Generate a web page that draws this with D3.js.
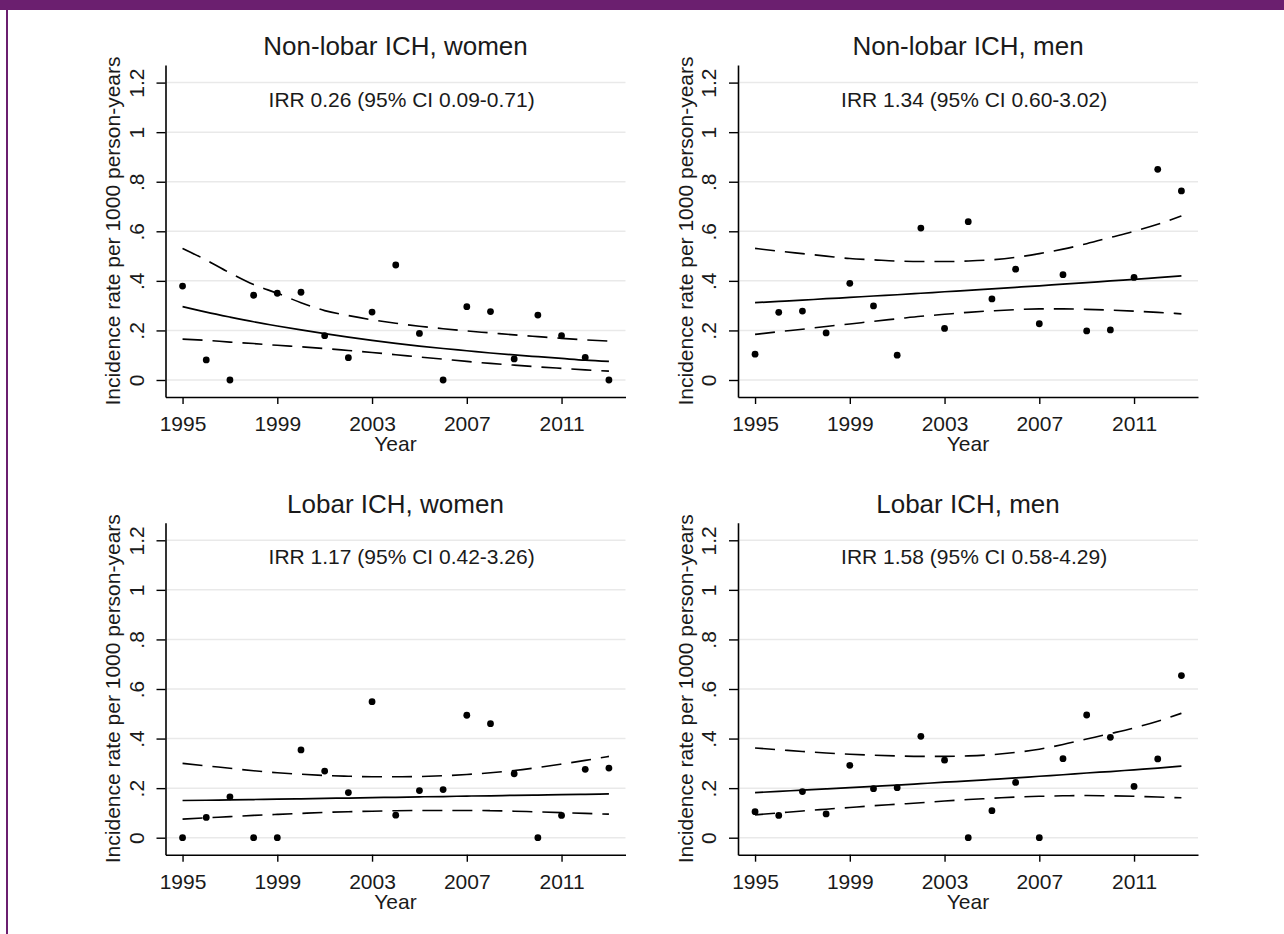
<!DOCTYPE html>
<html>
<head>
<meta charset="utf-8">
<script src="https://cdn.jsdelivr.net/npm/d3@7"></script>
<style>
  body { margin: 0; background: #fff; }
  text { font-family: "Liberation Sans", Arial, Helvetica, sans-serif; fill: #1a1a1a; }
</style>
</head>
<body>
<div id="chart-container"></div>
<script>

// categories / labels

const years = [1995, 1996, 1997, 1998, 1999, 2000, 2001, 2002, 2003, 2004,
               2005, 2006, 2007, 2008, 2009, 2010, 2011, 2012, 2013];
const titles = ["Non-lobar ICH, women", "Non-lobar ICH, men", "Lobar ICH, women", "Lobar ICH, men"];
const irrLabels = ["IRR 0.26 (95% CI 0.09-0.71)", "IRR 1.34 (95% CI 0.60-3.02)",
                   "IRR 1.17 (95% CI 0.42-3.26)", "IRR 1.58 (95% CI 0.58-4.29)"];
const xTicks = [1995, 1999, 2003, 2007, 2011];
const yTicks = [0, 0.2, 0.4, 0.6, 0.8, 1, 1.2];
const yTickLabels = ["0", ".2", ".4", ".6", ".8", "1", "1.2"];
const yTitle = "Incidence rate per 1000 person-years";
const xTitle = "Year";

// Non-lobar ICH, women
const obsNonlobarWomen = [0.379, 0.081, 0, 0.342, 0.35, 0.354, 0.179, 0.09, 0.274, 0.464,
                          0.188, 0, 0.296, 0.276, 0.085, 0.262, 0.179, 0.091, 0];
const fitNonlobarWomen = [0.296, 0.274, 0.254, 0.235, 0.218, 0.202, 0.187, 0.173, 0.160, 0.148,
                          0.137, 0.127, 0.118, 0.109, 0.101, 0.094, 0.087, 0.080, 0.075];
const upNonlobarWomen  = [0.531, 0.484, 0.432, 0.385, 0.350, 0.312, 0.280, 0.260, 0.243, 0.229,
                          0.217, 0.207, 0.198, 0.190, 0.182, 0.175, 0.168, 0.162, 0.157];
const loNonlobarWomen  = [0.165, 0.160, 0.153, 0.147, 0.140, 0.134, 0.127, 0.119, 0.111, 0.102,
                          0.093, 0.084, 0.075, 0.067, 0.060, 0.053, 0.047, 0.041, 0.036];

// Non-lobar ICH, men
const obsNonlobarMen = [0.104, 0.273, 0.278, 0.19, 0.39, 0.299, 0.1, 0.613, 0.208, 0.639,
                        0.327, 0.447, 0.227, 0.425, 0.198, 0.202, 0.414, 0.85, 0.763];
const fitNonlobarMen = [0.312, 0.317, 0.322, 0.328, 0.333, 0.339, 0.344, 0.350, 0.356, 0.362,
                        0.368, 0.374, 0.380, 0.387, 0.393, 0.400, 0.406, 0.413, 0.420];
const upNonlobarMen  = [0.531, 0.520, 0.510, 0.500, 0.490, 0.485, 0.480, 0.478, 0.478, 0.480,
                        0.485, 0.495, 0.510, 0.528, 0.550, 0.575, 0.600, 0.628, 0.662];
const loNonlobarMen  = [0.184, 0.195, 0.205, 0.216, 0.226, 0.237, 0.247, 0.257, 0.265, 0.273,
                        0.279, 0.284, 0.287, 0.287, 0.285, 0.282, 0.278, 0.273, 0.267];

// Lobar ICH, women
const obsLobarWomen = [0, 0.082, 0.165, 0, 0, 0.354, 0.269, 0.182, 0.549, 0.091,
                       0.19, 0.194, 0.494, 0.46, 0.258, 0, 0.09, 0.276, 0.281];
const fitLobarWomen = [0.150, 0.151, 0.153, 0.154, 0.156, 0.157, 0.159, 0.160, 0.162, 0.163,
                       0.165, 0.166, 0.168, 0.169, 0.171, 0.172, 0.174, 0.175, 0.177];
const upLobarWomen  = [0.300, 0.290, 0.280, 0.270, 0.262, 0.256, 0.251, 0.248, 0.246, 0.246,
                       0.247, 0.250, 0.255, 0.262, 0.271, 0.283, 0.297, 0.312, 0.328];
const loLobarWomen  = [0.075, 0.080, 0.085, 0.090, 0.094, 0.098, 0.102, 0.105, 0.107, 0.109,
                       0.110, 0.110, 0.110, 0.109, 0.107, 0.104, 0.101, 0.098, 0.095];

// Lobar ICH, men
const obsLobarMen = [0.105, 0.09, 0.186, 0.096, 0.292, 0.198, 0.202, 0.409, 0.313, 0,
                     0.109, 0.223, 0, 0.319, 0.495, 0.405, 0.207, 0.318, 0.654];
const fitLobarMen = [0.182, 0.187, 0.192, 0.197, 0.202, 0.207, 0.212, 0.218, 0.224, 0.229,
                     0.235, 0.241, 0.248, 0.254, 0.261, 0.267, 0.274, 0.281, 0.289];
const upLobarMen  = [0.362, 0.355, 0.348, 0.342, 0.337, 0.333, 0.330, 0.328, 0.328, 0.330,
                     0.335, 0.344, 0.357, 0.376, 0.398, 0.420, 0.443, 0.470, 0.502];
const loLobarMen  = [0.092, 0.100, 0.108, 0.115, 0.122, 0.129, 0.135, 0.141, 0.148, 0.154,
                     0.159, 0.164, 0.167, 0.169, 0.170, 0.169, 0.167, 0.164, 0.161];

const panels = [
  { obs: obsNonlobarWomen, fit: fitNonlobarWomen, up: upNonlobarWomen, lo: loNonlobarWomen },
  { obs: obsNonlobarMen,   fit: fitNonlobarMen,   up: upNonlobarMen,   lo: loNonlobarMen },
  { obs: obsLobarWomen,    fit: fitLobarWomen,    up: upLobarWomen,    lo: loLobarWomen },
  { obs: obsLobarMen,      fit: fitLobarMen,      up: upLobarMen,      lo: loLobarMen }
];

// page + frame

const svg = d3.select("#chart-container")
  .append("svg")
    .attr("width", 1284)
    .attr("height", 934);

svg.append("rect").attr("x", 0).attr("y", 0).attr("width", 1284).attr("height", 10).attr("fill", "#6b1f6f");
svg.append("rect").attr("x", 6).attr("y", 0).attr("width", 2).attr("height", 934).attr("fill", "#6b1f6f");

// one panel each

const colOffset = [0, 572.5];
const rowOffset = [0, 457.7];

const x = d3.scaleLinear().domain([1994.28, 2013.7]).range([165.5, 625.5]);
const y = d3.scaleLinear().domain([-0.0686, 1.271]).range([397, 65]);

panels.forEach((p, i) => {
  const g = svg.append("g")
    .attr("transform", `translate(${colOffset[i % 2]},${rowOffset[Math.floor(i / 2)]})`);

  // gridlines
  g.selectAll(".grid")
    .data(yTicks)
    .join("line")
      .attr("x1", 167).attr("x2", 625.5)
      .attr("y1", d => y(d)).attr("y2", d => y(d))
      .attr("stroke", "#e9e9e9")
      .attr("stroke-width", 1.5);

  // x axis
  const xa = g.append("g")
    .attr("transform", `translate(0,${y.range()[0]})`)
    .call(d3.axisBottom(x).tickValues(xTicks).tickFormat(d3.format("d")).tickSize(7).tickSizeOuter(0));
  xa.select(".domain").attr("stroke", "#000").attr("stroke-width", 1.6);
  xa.selectAll(".tick line").attr("stroke", "#000").attr("stroke-width", 1.4);
  xa.selectAll(".tick text")
    .attr("y", 34).attr("dy", 0)
    .attr("font-size", 21)
    .attr("fill", "#1a1a1a");

  // y axis
  const ya = g.append("g")
    .attr("transform", `translate(${x.range()[0]},0)`)
    .call(d3.axisLeft(y).tickValues(yTicks).tickFormat((d, j) => yTickLabels[j]).tickSize(9).tickSizeOuter(0));
  ya.select(".domain").attr("stroke", "#000").attr("stroke-width", 1.6);
  ya.selectAll(".tick line").attr("stroke", "#000").attr("stroke-width", 1.4);
  ya.selectAll(".tick text")
    .attr("transform", "rotate(-90)")
    .attr("x", 0).attr("y", -22).attr("dy", 0)
    .attr("text-anchor", "middle")
    .attr("font-size", 21)
    .attr("fill", "#1a1a1a");

  g.selectAll(".domain, .tick").attr("font-family", null);

  // titles
  const cx = (x.range()[0] + x.range()[1]) / 2;
  g.append("text")
    .attr("x", cx).attr("y", 55)
    .attr("text-anchor", "middle")
    .attr("font-size", 26)
    .text(titles[i]);

  g.append("text")
    .attr("x", x(2004.25)).attr("y", y(1.103))
    .attr("text-anchor", "middle")
    .attr("font-size", 21)
    .text(irrLabels[i]);

  g.append("text")
    .attr("x", cx).attr("y", 451)
    .attr("text-anchor", "middle")
    .attr("font-size", 21)
    .text(xTitle);

  g.append("text")
    .attr("transform", `translate(120,${(y.range()[0] + y.range()[1]) / 2}) rotate(-90)`)
    .attr("text-anchor", "middle")
    .attr("font-size", 21)
    .text(yTitle);

  // fitted line + CI
  const line = d3.line()
    .x((d, j) => x(years[j]))
    .y(d => y(d))
    .curve(d3.curveMonotoneX);

  g.append("path")
    .datum(p.up)
    .attr("fill", "none")
    .attr("stroke", "#000")
    .attr("stroke-width", 1.6)
    .attr("stroke-dasharray", "20,10")
    .attr("d", line);

  g.append("path")
    .datum(p.lo)
    .attr("fill", "none")
    .attr("stroke", "#000")
    .attr("stroke-width", 1.6)
    .attr("stroke-dasharray", "20,10")
    .attr("d", line);

  g.append("path")
    .datum(p.fit)
    .attr("fill", "none")
    .attr("stroke", "#000")
    .attr("stroke-width", 1.7)
    .attr("d", line);

  // observed points
  g.selectAll(".pt")
    .data(p.obs)
    .join("circle")
      .attr("cx", (d, j) => x(years[j]))
      .attr("cy", d => y(d))
      .attr("r", 3.4)
      .attr("fill", "#000");
});

</script>
</body>
</html>
